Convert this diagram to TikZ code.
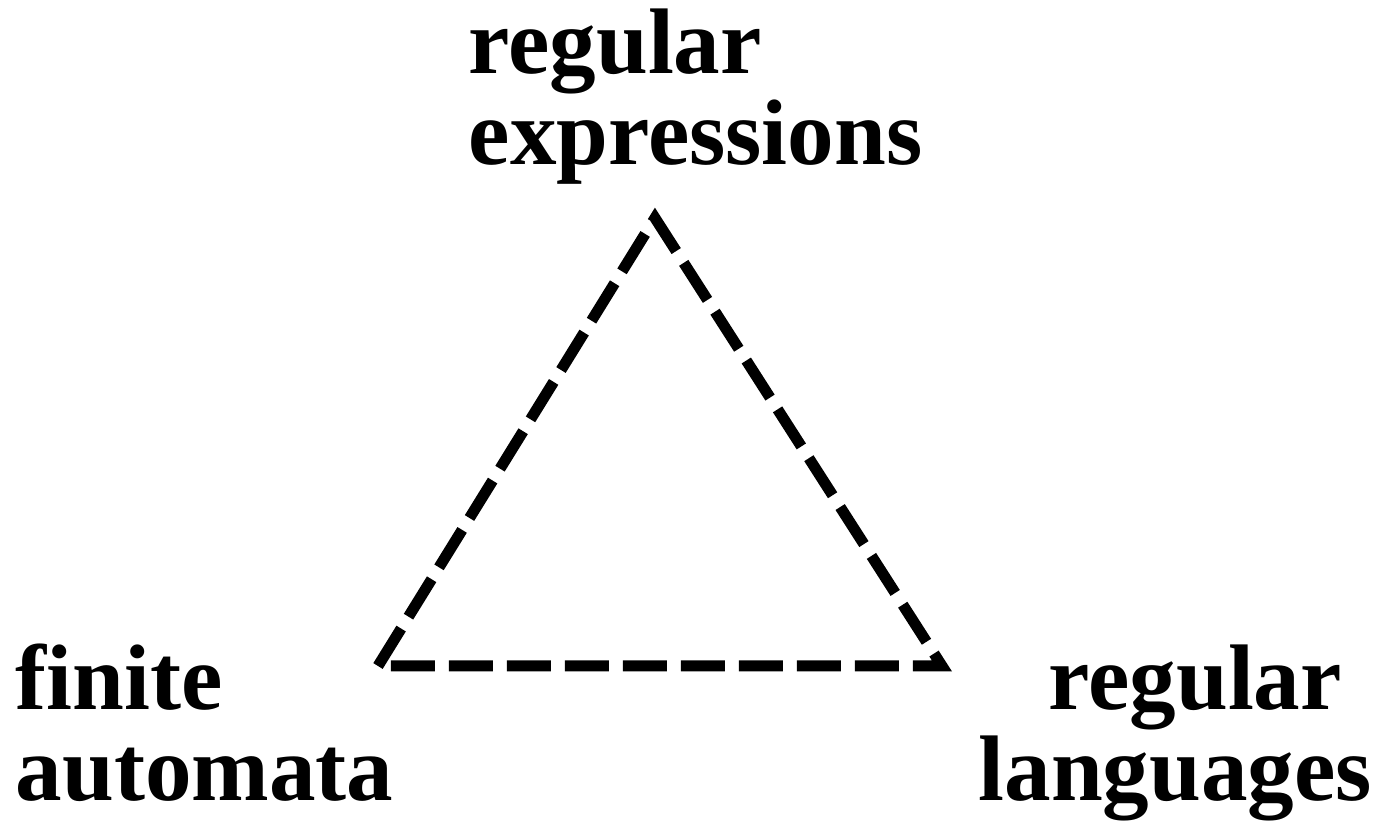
\documentclass[tikz,border=0pt]{standalone}
\usepackage{fontspec}
\setmainfont{Liberation Serif}
\tikzset{
  corner/.style={font=\fontsize{26.5}{26}\selectfont\bfseries, inner sep=0pt, align=left, anchor=base west},
  edge/.style={line width=1.1mm, dash pattern=on 4.4mm off 1.4mm}
}
\begin{document}
\begin{tikzpicture}

\useasboundingbox (0,0) rectangle (13.9,8.25);

\coordinate (top) at (6.55,6.07);
\coordinate (left) at (3.78,1.59);
\coordinate (right) at (9.42,1.59);

\draw[edge] (left) -- (top) -- (right) -- cycle;

\node[corner] (re) at (4.68,6.60) {regular\\expressions};
\node[corner] (fa) at (0.15,0.24) {finite\\automata};
\node[corner] (rl) at (9.78,0.24) {\hspace*{0.7cm}regular\\languages};

\end{tikzpicture}
\end{document}
